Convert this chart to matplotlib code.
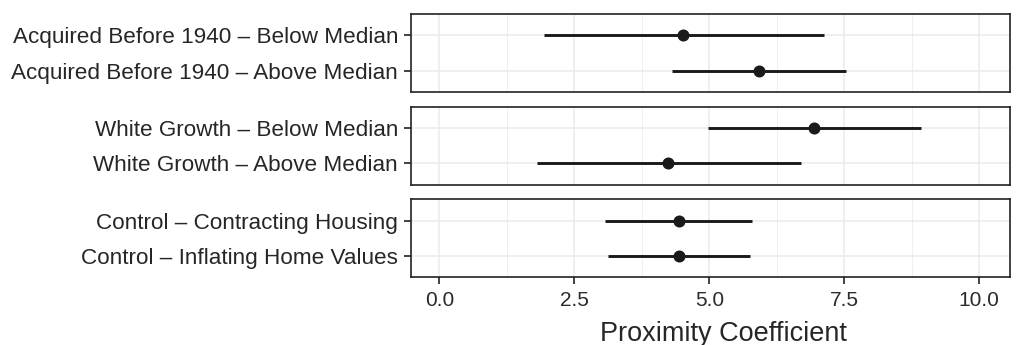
import matplotlib.pyplot as plt
import numpy as np

# facet groups, top to bottom; within each, first label is the upper row
groups = ['Acquired', 'White', 'Control']
labels = [
    ['Acquired Before 1940 \u2013 Below Median', 'Acquired Before 1940 \u2013 Above Median'],
    ['White Growth \u2013 Below Median', 'White Growth \u2013 Above Median'],
    ['Control \u2013 Contracting Housing', 'Control \u2013 Inflating Home Values'],
]
estimate = [[4.52, 5.92], [6.94, 4.24], [4.43, 4.44]]
lower = [[1.93, 4.31], [4.97, 1.80], [3.06, 3.12]]
upper = [[7.12, 7.54], [8.92, 6.70], [5.79, 5.75]]

plt.rcParams['font.family'] = ['Liberation Sans', 'DejaVu Sans']

W, H = 1021, 345
fig = plt.figure(figsize=(W / 100, H / 100), dpi=100)

left, right = 411 / W, 1010 / W
panel_top = [14, 106.7, 199.3]
panel_h = 78

axes = []
for i, g in enumerate(groups):
    bottom = 1 - (panel_top[i] + panel_h) / H
    ax = fig.add_axes([left, bottom, right - left, panel_h / H])
    axes.append(ax)
    ys = [2, 1]
    for y, est, lo, hi in zip(ys, estimate[i], lower[i], upper[i]):
        ax.hlines(y, lo, hi, color='#1a1a1a', lw=2.1, capstyle='butt', zorder=3)
        ax.scatter([est], [y], s=75, color='#1a1a1a', zorder=4, linewidths=0)
    ax.set_xlim(-0.525, 10.57)
    ax.set_ylim(0.4, 2.6)
    ax.set_yticks(ys)
    ax.set_yticklabels(labels[i])
    ax.set_xticks([0, 2.5, 5, 7.5, 10])
    ax.set_xticks([1.25, 3.75, 6.25, 8.75], minor=True)
    ax.grid(True, which='major', color='#EBEBEB', lw=1.1, zorder=0)
    ax.grid(True, which='minor', axis='x', color='#EBEBEB', lw=0.55, zorder=0)
    ax.set_axisbelow(True)
    for s in ax.spines.values():
        s.set_color('#222222')
        s.set_linewidth(1.2)
    ax.tick_params(axis='y', length=4.8, width=1.2, color='#222222',
                   labelsize=16.2, labelcolor='#262626', pad=4.5)
    ax.tick_params(axis='x', which='minor', length=0)
    if i < 2:
        ax.tick_params(axis='x', which='major', length=0, labelbottom=False)
    else:
        ax.tick_params(axis='x', which='major', length=4.8, width=1.2, color='#222222',
                       labelsize=15, labelcolor='#2b2b2b', pad=5)
        ax.set_xlabel('Proximity Coefficient', fontsize=19.5, color='#262626', labelpad=8)
        ax.xaxis.set_label_coords(0.521, -0.56)

fig.savefig('out.png', dpi=100)
